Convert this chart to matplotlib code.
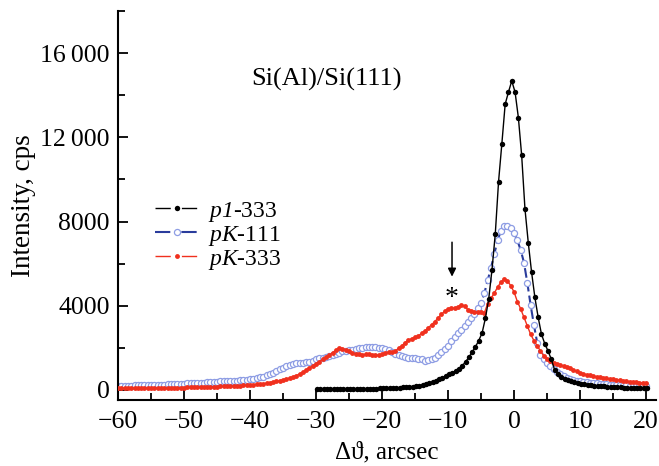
import matplotlib
matplotlib.use("Agg")
import matplotlib.pyplot as plt
from matplotlib.lines import Line2D
from matplotlib.ticker import MultipleLocator, FuncFormatter
import numpy as np

################################# Data ####################################
# angle grids (arcsec)
x_pk = np.arange(-60, 20.01, 0.5)
x_p1 = np.arange(-29.85, 20.2, 0.5)

# pK-333 (red)
pk333 = [80, 80, 82, 82, 84, 85, 86, 88, 88, 90, 92, 94, 96, 98, 100, 102,
         104, 107, 110, 112, 115, 118, 122, 126, 130, 134, 138, 143, 148, 154, 160,
         166, 172, 178, 185, 192, 200, 208, 218, 228, 240,
         252, 265, 280, 300, 322, 348, 378, 410, 445, 480,
         520, 565, 615, 680, 760, 850, 950, 1050, 1150, 1250,
         1350, 1450, 1550, 1650, 1770, 1890, 1990, 1970, 1900, 1830,
         1760, 1710, 1690, 1680, 1690, 1690, 1670, 1660, 1640, 1700,
         1770, 1800, 1800, 1850, 1980, 2100, 2250, 2370, 2440, 2500,
         2570, 2690, 2800, 2950, 3100, 3250, 3420, 3600, 3740, 3850,
         3900, 3870, 3950, 4050, 3980, 3820, 3750, 3720, 3700, 3680,
         3660, 4100, 4350, 4600, 4880, 5120, 5250, 5180, 4950, 4650,
         4200, 3850, 3450, 3050, 2650, 2350, 2100, 1850, 1620, 1480,
         1360, 1300, 1250, 1190, 1130, 1080, 1030, 960, 880, 800,
         760, 730, 700, 660, 630, 600, 570, 550, 520, 500,
         480, 460, 440, 420, 400, 390, 370, 355, 340, 330]

# pK-111 (blue)
pk111 = [200, 202, 205, 208, 212, 215, 220, 225, 230, 235, 240, 245, 250, 255,
         260, 266, 272, 278, 285, 292, 300, 308, 316, 325, 335, 345, 355, 365,
         375, 388, 400,
         408, 415, 422, 430, 440, 450, 462, 475, 490, 510,
         535, 565, 600, 640, 690, 750, 820, 900, 980, 1060,
         1130, 1190, 1250, 1280, 1295, 1300, 1310, 1330, 1380, 1460,
         1500, 1540, 1580, 1620, 1680, 1730, 1780, 1830, 1860, 1890,
         1920, 1950, 1975, 2000, 2025, 2050, 2060, 2040, 2010, 1980,
         1930, 1880, 1800, 1720, 1660, 1610, 1570, 1540, 1520, 1500,
         1480, 1450, 1400, 1420, 1470, 1540, 1650, 1800, 1950, 2100,
         2350, 2520, 2700, 2860, 3050, 3230, 3410, 3620, 3880, 4150,
         4600, 5200, 5800, 6450, 7100, 7550, 7800, 7780, 7700, 7450,
         7100, 6650, 6050, 5100, 4050, 3100, 2250, 1650, 1450, 1280,
         1120, 980, 860, 750, 650, 580, 530, 480, 440, 410,
         385, 365, 345, 325, 310, 295, 282, 270, 260, 250,
         240, 232, 224, 216, 208, 200, 192, 184, 176, 170]

# p1-333 (black)
p1333 = [30, 32, 34, 36, 38, 40, 42, 44, 46, 48, 50,
         52, 54, 56, 58, 61, 64, 67, 70, 74, 78,
         82, 88, 94, 100, 108, 118, 128, 140, 155, 175,
         200, 230, 270, 320, 370, 430, 510, 580, 660, 740,
         820, 920, 1020, 1150, 1340, 1550, 1800, 2050, 2350, 2700,
         3400, 4300, 5700, 7400, 9900, 11700, 13570, 14150, 14680, 14150,
         12940, 11140, 8600, 7000, 5600, 4400, 3450, 2650, 2200, 1850,
         1450, 950, 760, 630, 540, 470, 410, 365, 325, 290,
         265, 245, 225, 210, 195, 180, 168, 157, 147, 138,
         130, 122, 115, 108, 102, 96, 90, 84, 78, 72]

labels = [r"$p1$-333", r"$pK$-111", r"$pK$-333"]
x_ticks = [-60, -50, -40, -30, -20, -10, 0, 10, 20]
y_ticks = [0, 4000, 8000, 12000, 16000]

################################# Style ###################################
plt.rcParams["font.family"] = ["Liberation Serif", "DejaVu Serif"]
plt.rcParams["mathtext.fontset"] = "custom"
# math is used only for the italic legend prefixes
plt.rcParams["mathtext.rm"] = "Liberation Serif:italic"
plt.rcParams["mathtext.it"] = "Liberation Serif:italic"
plt.rcParams["lines.scale_dashes"] = False

RED = "#f0301e"
BLUE_LINE = "#2a3c9c"
BLUE_MK = "#8e9de4"

################################# Figure ##################################
fig = plt.figure(figsize=(6.59, 4.66), dpi=100)
ax = fig.add_axes([118 / 659, 66 / 466, 538 / 659, 389 / 466])

ax.plot(x_pk, pk111, color=BLUE_LINE, lw=1.5, dashes=(7, 3),
        marker="o", ms=4.4, mfc="white", mec=BLUE_MK, mew=0.9, zorder=2)
ax.plot(x_pk, pk333, color=RED, lw=1.0,
        marker="o", ms=3.5, mfc=RED, mec=RED, mew=0, zorder=3)
ax.plot(x_p1, p1333, color="black", lw=1.0,
        marker="o", ms=3.9, mfc="black", mec="black", mew=0, zorder=4)

ax.set_xlim(-60, 21.5)
ax.set_ylim(-476, 18000)

ax.spines["top"].set_visible(False)
ax.spines["right"].set_visible(False)
for s in ("left", "bottom"):
    ax.spines[s].set_linewidth(1.5)

ax.set_xticks(x_ticks)
ax.set_xticklabels([str(t).replace("-", "\u2212") for t in x_ticks])
ax.xaxis.set_minor_locator(MultipleLocator(5))
ax.set_yticks(y_ticks)
ax.yaxis.set_major_formatter(FuncFormatter(
    lambda v, p: f"{int(v) // 1000}\u2009000" if v >= 10000 else f"{int(v)}"))
ax.yaxis.set_minor_locator(MultipleLocator(2000))

ax.tick_params(which="both", direction="in", width=1.3, labelsize=18.5)
ax.tick_params(which="major", length=7)
ax.tick_params(which="minor", length=5)
ax.tick_params(axis="x", pad=8)
ax.tick_params(axis="y", pad=6)

ax.set_xlabel("\u0394\u03d1, arcsec", fontsize=18, labelpad=6)
ax.set_ylabel("Intensity, cps", fontsize=19.5, labelpad=3)

ax.text(-39.8, 14760, "Si(Al)/Si(111)", fontsize=19, ha="left", va="center")

ax.annotate("", xy=(-9.4, 5250), xytext=(-9.4, 7150),
            arrowprops=dict(arrowstyle="-|>", lw=1.1, color="black",
                            mutation_scale=12))
ax.text(-9.4, 4350, "*", fontsize=20, ha="center", va="center")

handles = [
    Line2D([], [], color="black", lw=1.0, dashes=(11, 8),
           marker="o", ms=3.9, mfc="black", mec="black", mew=0),
    Line2D([], [], color=BLUE_LINE, lw=1.5, dashes=(11, 8),
           marker="o", ms=4.4, mfc="white", mec=BLUE_MK, mew=0.9),
    Line2D([], [], color=RED, lw=1.0, dashes=(11, 8),
           marker="o", ms=3.5, mfc=RED, mec=RED, mew=0),
]
ax.legend(handles, labels, loc="upper left", bbox_to_anchor=(0.069, 0.515),
          frameon=False, fontsize=17, numpoints=1, handlelength=1.85,
          handletextpad=0.4, labelspacing=0.0, borderpad=0,
          borderaxespad=0)

fig.savefig("out.png", dpi=100)
